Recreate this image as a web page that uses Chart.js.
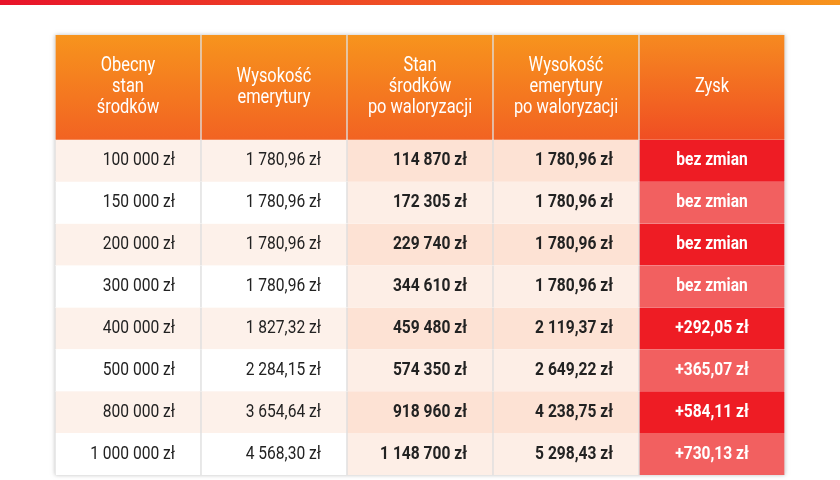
<!DOCTYPE html>
<html lang="pl">
<head>
<meta charset="UTF-8">
<title>Waloryzacja środków</title>
<script src="https://cdn.jsdelivr.net/npm/chart.js"></script>
<style>
  body { margin: 0; background: #fff; }
  #wrap { width: 840px; height: 480px; }
</style>
</head>
<body>
<div id="wrap"><canvas id="tbl"></canvas></div>
<script>
// nagłówki kolumn
const headers = [
  ['Obecny', 'stan', 'środków'],
  ['Wysokość', 'emerytury'],
  ['Stan', 'środków', 'po waloryzacji'],
  ['Wysokość', 'emerytury', 'po waloryzacji'],
  ['Zysk']
];
const stanObecny = ['100 000 zł', '150 000 zł', '200 000 zł', '300 000 zł', '400 000 zł', '500 000 zł', '800 000 zł', '1 000 000 zł'];
const emerytura = ['1 780,96 zł', '1 780,96 zł', '1 780,96 zł', '1 780,96 zł', '1 827,32 zł', '2 284,15 zł', '3 654,64 zł', '4 568,30 zł'];
const stanPo = ['114 870 zł', '172 305 zł', '229 740 zł', '344 610 zł', '459 480 zł', '574 350 zł', '918 960 zł', '1 148 700 zł'];
const emeryturaPo = ['1 780,96 zł', '1 780,96 zł', '1 780,96 zł', '1 780,96 zł', '2 119,37 zł', '2 649,22 zł', '4 238,75 zł', '5 298,43 zł'];
const zysk = ['bez zmian', 'bez zmian', 'bez zmian', 'bez zmian', '+292,05 zł', '+365,07 zł', '+584,11 zł', '+730,13 zł'];

const columns = [stanObecny, emerytura, stanPo, emeryturaPo, zysk];
const colLabels = ['c0', 'c1', 'c2', 'c3', 'c4'];
const HEAD = 2.5; // wysokość nagłówka w jednostkach wiersza
const FONT = 'Roboto, "Noto Sans", sans-serif';
const SQUEEZE = 0.82; // zwężenie tekstu (brak kroju condensed)

function cellColor(ctx, row, col) {
  const chart = ctx.chart;
  const area = chart.chartArea;
  if (row < 0) {
    if (!area) return '#f47a20';
    const g = chart.ctx.createLinearGradient(0, area.top, 0, area.top + 104);
    if (col === 4) { g.addColorStop(0, '#f68a20'); g.addColorStop(1, '#f04e23'); }
    else { g.addColorStop(0, '#f7941d'); g.addColorStop(1, '#f26322'); }
    return g;
  }
  const odd = row % 2 === 0;
  if (col === 4) return odd ? '#ee1c24' : '#f26060';
  if (col >= 2) return odd ? '#fde2d4' : '#fdeee6';
  return odd ? '#fdf1ea' : '#ffffff';
}

const datasets = [];
for (let r = -1; r < stanObecny.length; r++) {
  const y0 = r < 0 ? 0 : HEAD + r;
  const y1 = r < 0 ? HEAD : HEAD + r + 1;
  datasets.push({
    label: 'r' + r,
    data: colLabels.map(() => [y0, y1]),
    backgroundColor: (ctx) => cellColor(ctx, r, ctx.dataIndex),
    borderColor: 'rgba(220,220,220,0.9)',
    borderWidth: { left: 1, right: 1, top: 0, bottom: 0 },
    borderSkipped: false,
    grouped: false,
    barPercentage: 1,
    categoryPercentage: 1
  });
}

function narrowText(c, t, x, y) {
  c.save();
  c.translate(x, y);
  c.scale(SQUEEZE, 1);
  c.fillText(t, 0, 0);
  c.restore();
}

const textPlugin = {
  id: 'cellText',
  beforeDraw(chart) {
    const c = chart.ctx;
    const g = c.createLinearGradient(0, 0, chart.width, 0);
    g.addColorStop(0, '#e8132a'); g.addColorStop(1, '#f7941d');
    c.fillStyle = g;
    c.fillRect(0, 0, chart.width, 5);
    const a = chart.chartArea;
    c.save();
    c.shadowColor = 'rgba(0,0,0,0.25)';
    c.shadowBlur = 4;
    c.fillStyle = '#fff';
    c.fillRect(a.left, a.top, a.right - a.left, a.bottom - a.top);
    c.restore();
  },
  afterDatasetsDraw(chart) {
    const c = chart.ctx;
    const xs = chart.scales.x, ys = chart.scales.y;
    const w = xs.getPixelForValue(1) - xs.getPixelForValue(0);
    c.save();
    c.textBaseline = 'middle';
    headers.forEach((lines, i) => {
      const cx = xs.getPixelForValue(i);
      const cy = (ys.getPixelForValue(0) + ys.getPixelForValue(HEAD)) / 2;
      c.fillStyle = '#fff';
      c.textAlign = 'center';
      c.font = '20px ' + FONT;
      const lh = 21;
      lines.forEach((t, k) => narrowText(c, t, cx, cy + (k - (lines.length - 1) / 2) * lh));
    });
    columns.forEach((col, i) => {
      const cx = xs.getPixelForValue(i);
      col.forEach((t, r) => {
        const cy = ys.getPixelForValue(HEAD + r + 0.5);
        if (i === 4) {
          c.fillStyle = '#fff'; c.textAlign = 'center';
          c.font = 'bold 19px ' + FONT;
          narrowText(c, t, cx, cy);
        } else {
          c.fillStyle = '#222'; c.textAlign = 'right';
          c.font = (i >= 2 ? 'bold ' : '') + '19px ' + FONT;
          narrowText(c, t, cx + w / 2 - 26, cy);
        }
      });
    });
    c.restore();
  }
};

new Chart(document.getElementById('tbl'), {
  type: 'bar',
  data: { labels: colLabels, datasets: datasets },
  options: {
    responsive: true,
    maintainAspectRatio: false,
    animation: false,
    layout: { padding: { left: 55, right: 55, top: 35, bottom: 5 } },
    scales: {
      x: { display: false, offset: true },
      y: { display: false, reverse: true, min: 0, max: HEAD + stanObecny.length }
    },
    plugins: { legend: { display: false }, tooltip: { enabled: false } }
  },
  plugins: [textPlugin]
});
</script>
</body>
</html>
